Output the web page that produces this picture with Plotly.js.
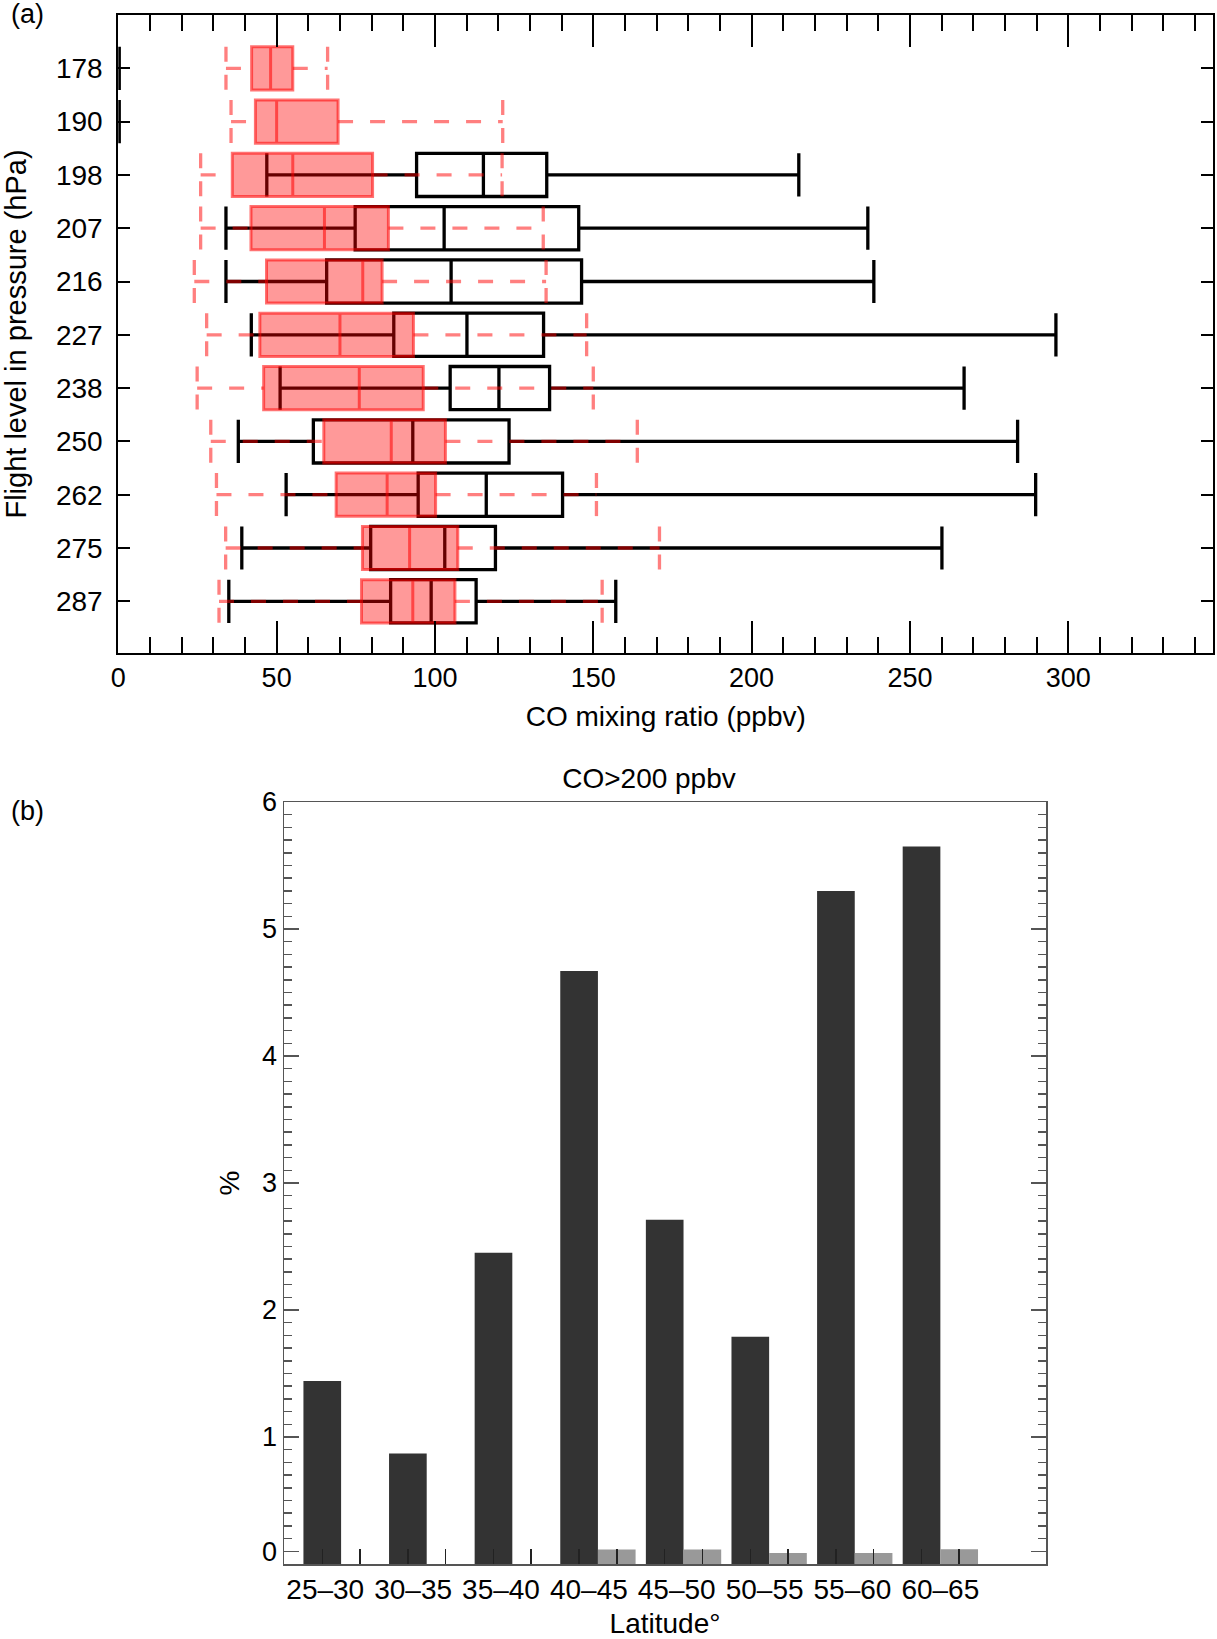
<!DOCTYPE html>
<html>
<head>
<meta charset="utf-8">
<script src="https://cdn.plot.ly/plotly-3.0.1.min.js"></script>
<style>
  html, body { margin: 0; padding: 0; overflow: hidden; background: #fff; }
</style>
</head>
<body>
<div id="chart" style="width:1217px;height:1639px"></div>
<script>
// (a) flight levels (hPa), top to bottom
var levels = ['178', '190', '198', '207', '216', '227', '238', '250', '262', '275', '287'];

// black boxes
var blackLow  = [0.3, 0.3, 46.9, 34.0, 34.0, 42.0, 51.1, 37.9, 53.0, 39.0, 34.9];
var blackQ1   = [0.3, 0.3, 94.2, 74.8, 65.8, 87.0, 104.8, 61.6, 94.7, 79.7, 86.0];
var blackMed  = [0.3, 0.3, 115.3, 102.9, 105.1, 110.1, 120.2, 93.0, 116.2, 103.1, 98.8];
var blackQ3   = [0.3, 0.3, 135.3, 145.4, 146.3, 134.3, 136.2, 123.4, 140.3, 119.1, 113.0];
var blackHigh = [0.3, 0.3, 214.9, 236.7, 238.6, 296.1, 267.1, 284.0, 289.7, 260.1, 157.1];

// red boxes
var redLow  = [34.0, 35.6, 26.0, 26.0, 24.0, 27.9, 24.9, 29.2, 31.0, 33.9, 31.8];
var redQ1   = [42.1, 43.3, 36.0, 41.9, 46.8, 44.7, 45.9, 64.9, 68.8, 77.1, 76.8];
var redMed  = [48.1, 50.0, 55.1, 65.1, 77.2, 70.0, 76.1, 86.2, 84.9, 92.0, 93.0];
var redQ3   = [55.1, 69.4, 80.3, 85.3, 83.3, 93.2, 96.3, 103.3, 100.2, 107.2, 106.3];
var redHigh = [66.1, 121.4, 121.2, 134.2, 135.1, 147.9, 150.0, 163.9, 151.0, 170.9, 152.8];

// (b) CO > 200 ppbv, % by latitude band
var latBands = ['25\u201330', '30\u201335', '35\u201340', '40\u201345', '45\u201350', '50\u201355', '55\u201360', '60\u201365'];
var pctDark = [1.44, 0.87, 2.45, 4.67, 2.71, 1.79, 5.30, 5.65];
var pctGray = [0, 0, 0, 0.115, 0.115, 0.087, 0.087, 0.116];

var pos = levels.map(function(d, i) { return i; });
var boxH = 0.81;
var half = boxH / 2;

// dashed red whiskers and caps
var whiskX = [], whiskY = [], capX = [], capY = [];
pos.forEach(function(p, i) {
  whiskX.push(redLow[i], redQ1[i], null, redQ3[i], redHigh[i], null);
  whiskY.push(p, p, null, p, p, null);
  capX.push(redLow[i], redLow[i], null, redHigh[i], redHigh[i], null);
  capY.push(p - half, p + half, null, p - half, p + half, null);
});

var latPos = latBands.map(function(d, i) { return i; });
var barW = 0.44;
var grayPos = latPos.map(function(p) { return p + barW; });
// labels in the original sit on a slightly wider spacing than the bars
var labelPos = latPos.map(function(p) { return p * 1.0264 + 0.035; });

var red = 'rgba(255,0,0,0.55)';

var data = [
  {
    type: 'box', orientation: 'h', xaxis: 'x', yaxis: 'y',
    y: pos, q1: blackQ1, median: blackMed, q3: blackQ3,
    lowerfence: blackLow, upperfence: blackHigh,
    width: boxH, whiskerwidth: 1, boxpoints: false,
    fillcolor: 'rgba(0,0,0,0)', line: {color: '#000', width: 3.3},
    showlegend: false
  },
  {
    type: 'box', orientation: 'h', xaxis: 'x', yaxis: 'y',
    y: pos, q1: redQ1, median: redMed, q3: redQ3,
    lowerfence: redQ1, upperfence: redQ3,
    width: boxH, whiskerwidth: 1, boxpoints: false,
    fillcolor: 'rgba(255,0,0,0.4)', line: {color: red, width: 3},
    showlegend: false
  },
  {
    type: 'scatter', mode: 'lines', xaxis: 'x', yaxis: 'y',
    x: whiskX, y: whiskY, connectgaps: false,
    line: {color: 'rgba(255,0,0,0.5)', width: 3.3, dash: '15px,17px'},
    showlegend: false
  },
  {
    type: 'scatter', mode: 'lines', xaxis: 'x', yaxis: 'y',
    x: capX, y: capY, connectgaps: false,
    line: {color: 'rgba(255,0,0,0.5)', width: 3.3, dash: '15px,13px'},
    showlegend: false
  },
  {
    type: 'bar', xaxis: 'x2', yaxis: 'y2',
    x: latPos, y: pctDark, width: barW,
    marker: {color: '#333333'}, showlegend: false
  },
  {
    type: 'bar', xaxis: 'x2', yaxis: 'y2',
    x: grayPos, y: pctGray, width: barW,
    marker: {color: '#999999'}, showlegend: false
  }
];

var W = 1217, H = 1639;
var fontFam = 'Liberation Sans, Arial, Helvetica, sans-serif';

var layout = {
  width: W, height: H,
  margin: {l: 0, r: 0, t: 0, b: 0},
  paper_bgcolor: '#fff', plot_bgcolor: 'rgba(0,0,0,0)',
  font: {family: fontFam, size: 27, color: '#000'},
  showlegend: false,
  boxmode: 'overlay', barmode: 'overlay',
  title: {
    text: 'CO>200 ppbv', font: {size: 28},
    x: 649 / W, y: 1 - 778 / H, xanchor: 'center', yanchor: 'middle'
  },
  xaxis: {
    domain: [118.3 / W, 1213.3 / W], anchor: 'y',
    range: [0, 345.8], tickmode: 'linear', tick0: 0, dtick: 50,
    ticks: 'inside', ticklen: 32, tickwidth: 2, tickcolor: '#000',
    showline: true, linecolor: '#000', linewidth: 2, mirror: 'allticks',
    showgrid: false, zeroline: false,
    minor: {ticks: 'inside', tick0: 0, dtick: 10, ticklen: 16, tickwidth: 2, tickcolor: '#000', showgrid: false},
    title: {text: 'CO mixing ratio (ppbv)', font: {size: 28}, standoff: 14}
  },
  yaxis: {
    domain: [1 - 653 / H, 1 - 15 / H], anchor: 'x',
    range: [10.97, -1], tickmode: 'array', tickvals: pos, ticktext: levels,
    ticks: 'inside', ticklen: 12, tickwidth: 2, tickcolor: '#000',
    ticklabelstandoff: 8, tickfont: {size: 28},
    showline: true, linecolor: '#000', linewidth: 2, mirror: 'ticks',
    showgrid: false, zeroline: false,
    title: {text: 'Flight level in pressure (hPa)', font: {size: 29}, standoff: 22}
  },
  xaxis2: {
    domain: [284 / W, 1046 / W], anchor: 'y2',
    range: [-0.447, 8.454], tickmode: 'array',
    tickvals: labelPos, ticktext: latBands, tickfont: {size: 28},
    ticks: 'inside', ticklen: 0,
    showline: true, linecolor: '#555', linewidth: 1.5, mirror: true,
    showgrid: false, zeroline: false,
    minor: {tickmode: 'array', tickvals: latPos.concat(grayPos), ticks: 'inside', ticklen: 15, tickwidth: 1.5, tickcolor: '#222', showgrid: false},
    title: {text: 'Latitude\u00b0', font: {size: 28}, standoff: 12}
  },
  yaxis2: {
    domain: [1 - 1564 / H, 1 - 802 / H], anchor: 'x2',
    range: [0, 6], tickmode: 'array',
    tickvals: [0.1, 1, 2, 3, 4, 5, 6], ticktext: ['0', '1', '2', '3', '4', '5', '6'],
    ticks: 'inside', ticklen: 15, tickwidth: 1.5, tickcolor: '#555',
    showline: true, linecolor: '#555', linewidth: 1.5, mirror: 'allticks',
    showgrid: false, zeroline: false,
    minor: {ticks: 'inside', tick0: 0, dtick: 0.1, ticklen: 8, tickwidth: 1.5, tickcolor: '#555', showgrid: false},
    title: {text: '%', font: {size: 28}, standoff: 14}
  },
  annotations: [
    {text: '(a)', xref: 'paper', yref: 'paper', x: 27 / W, y: 1 - 14 / H,
     xanchor: 'center', yanchor: 'middle', showarrow: false, font: {size: 27}},
    {text: '(b)', xref: 'paper', yref: 'paper', x: 27 / W, y: 1 - 811 / H,
     xanchor: 'center', yanchor: 'middle', showarrow: false, font: {size: 27}}
  ]
};

Plotly.newPlot('chart', data, layout, {staticPlot: true, displayModeBar: false});
</script>
</body>
</html>
